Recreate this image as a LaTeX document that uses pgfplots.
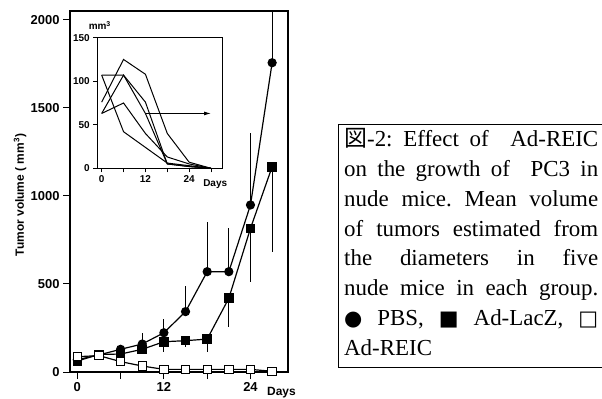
\documentclass[border=0pt]{standalone}
\usepackage{pgfplots}
\pgfplotsset{compat=1.18}
\usetikzlibrary{arrows.meta}
\usepackage{fontspec}
\setmainfont{Liberation Serif}
\newfontfamily\arial{Liberation Sans}
\newfontfamily\dejavu{DejaVu Sans}
\newfontfamily\cjk{Noto Sans CJK JP}
\begin{document}
\frenchspacing
\begin{tikzpicture}[x=1bp,y=1bp]
\path[use as bounding box] (0,0) rectangle (602,398);
% main axis
\begin{axis}[at={(70bp,26bp)}, anchor=south west, scale only axis,
  width=218bp, height=361bp,
  xmin=-1.01, xmax=29.2, ymin=0, ymax=2051,
  clip mode=individual,
  axis line style={line width=1.1pt},
  xtick={0,6,12,18,24}, xticklabels={0,,12,,24},
  ytick={0,500,1000,1500,2000},
  tick align=outside, xtick pos=bottom, ytick pos=left,
  major tick length=7bp,
  tick style={black, line width=1pt},
  ticklabel style={font=\arial\bfseries\fontsize{13}{13}\selectfont},
  /pgf/number format/assume math mode=true,
  /pgf/number format/1000 sep={},
  ylabel={Tumor volume ( mm\textsuperscript{3})},
  ylabel style={font=\arial\bfseries\fontsize{12}{12}\selectfont, at={(axis description cs:-0.229,0.49)}, anchor=center},
]
% PBS
\addplot[black, line width=1.2pt, mark=*, mark size=4pt, mark options={fill=black},
  error bars/.cd, y dir=plus, y explicit, error mark=none, error bar style={line width=0.9pt}]
  table[x=d, y=v, y error=e] {
d v e
0 70 0
3 97 0
6 129 20
9 159 61
12 223 76
15 343 147
18 570 284
21 570 246
24 949 409
27 1757 600
};
% Ad-LacZ
\addplot[black, line width=1.2pt, mark=square*, mark size=4.2pt, mark options={fill=black},
  error bars/.cd, y dir=minus, y explicit, error mark=none, error bar style={line width=0.9pt}]
  table[x=d, y=v, y error=e] {
d v e
0 62 0
3 100 0
6 102 0
9 129 0
12 172 56
15 178 34
18 187 71
21 419 162
24 816 303
27 1166 482
};
% Ad-REIC
\addplot[black, line width=1.2pt, mark=square*, mark size=4.2pt, mark options={fill=white, line width=1pt}]
  table[x=d, y=v] {
d v
0 87
3 93
6 59
9 34
12 15
15 15
18 15
21 15
24 15
27 4
};
\node[font=\arial\bfseries\fontsize{12}{12}\selectfont] at (axis description cs:0.97,-0.057) {Days};
\end{axis}
% inset
\begin{axis}[at={(97.3bp,229.7bp)}, anchor=south west, scale only axis,
  width=125.4bp, height=130.6bp,
  xmin=-1.2, xmax=33.2, ymin=0, ymax=150,
  clip mode=individual,
  axis line style={line width=0.9pt}, axis background/.style={fill=white},
  xtick={0,6,12,18,24,30}, xticklabels={0,,12,,24,},
  ytick={0,50,100,150},
  tick align=outside, xtick pos=bottom, ytick pos=left,
  major tick length=4bp,
  tick style={black, line width=0.8pt},
  ticklabel style={font=\arial\bfseries\fontsize{10}{10}\selectfont},
  /pgf/number format/assume math mode=true,
]
\addplot[black, line width=1pt] coordinates {(0,107) (6,107) (12,76) (18,5) (24,2) (30,0)};
\addplot[black, line width=1pt] coordinates {(0,107) (6,42) (12,24) (18,6) (24,3) (30,0)};
\addplot[black, line width=1pt] coordinates {(0,63) (6,107) (12,63) (18,5) (24,2) (30,0)};
\addplot[black, line width=1pt] coordinates {(0,63) (6,75) (12,40) (18,13) (24,5) (30,0)};
\addplot[black, line width=1pt] coordinates {(0,76) (6,125) (12,108) (18,40) (24,7) (30,0)};
\addplot[black, line width=1pt, -{Latex[length=7bp,width=4bp]}] coordinates {(12,63) (30,63)};
\node[font=\arial\bfseries\fontsize{10}{10}\selectfont, anchor=base] at (axis description cs:0.02,1.06) {mm\textsuperscript{3}};
\node[font=\arial\bfseries\fontsize{10}{10}\selectfont] at (axis description cs:0.94,-0.12) {Days};
\end{axis}
% caption box
\draw[line width=0.8bp] (338,31) rectangle (604,274);
\node[anchor=north west, inner sep=0pt, text width=254bp, align=justify,
  font=\fontsize{23}{30}\selectfont] at (344,270) {%
{\cjk 図}-2: Effect of \ Ad-REIC\linebreak
on the growth of \ PC3 in\linebreak
nude mice. Mean volume\linebreak
of tumors estimated from\linebreak
the diameters in five\linebreak
nude mice in each group.\linebreak
{\dejavu\fontsize{21}{30}\selectfont ●} PBS, {\dejavu\fontsize{21}{30}\selectfont ■} Ad-LacZ, {\dejavu\fontsize{21}{30}\selectfont □}\linebreak
Ad-REIC};
\end{tikzpicture}
\end{document}
